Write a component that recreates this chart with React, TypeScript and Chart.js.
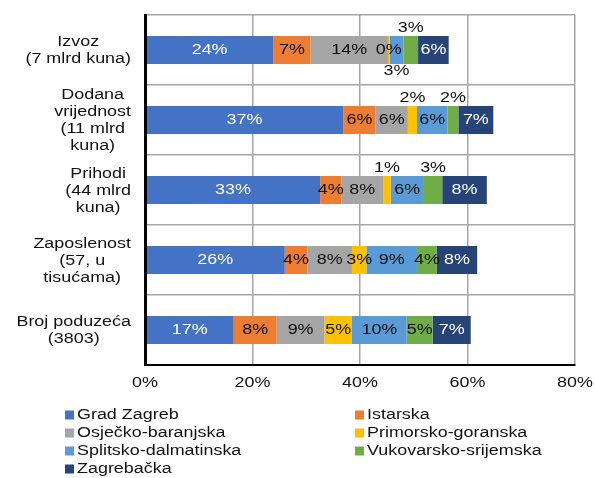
import React, { useEffect, useRef } from "react";
import { Chart, registerables } from "chart.js";

Chart.register(...registerables);

const categories: string[][] = [
  ["Izvoz", "(7 mlrd kuna)"],
  ["Dodana", "vrijednost", "(11 mlrd", "kuna)"],
  ["Prihodi", "(44 mlrd", "kuna)"],
  ["Zaposlenost", "(57, u", "tisućama)"],
  ["Broj poduzeća", "(3803)"],
];

const seriesNames = [
  "Grad Zagreb",
  "Istarska",
  "Osječko-baranjska",
  "Primorsko-goranska",
  "Splitsko-dalmatinska",
  "Vukovarsko-srijemska",
  "Zagrebačka",
];

const gradZagreb = [23.9, 36.9, 32.6, 26.0, 16.5];
const istarska = [6.9, 6.0, 3.9, 4.2, 8.0];
const osjecko = [14.4, 6.0, 7.8, 8.3, 8.9];
const primorsko = [0.3, 1.7, 1.4, 2.7, 5.1];
const splitsko = [2.6, 5.7, 6.2, 9.4, 10.2];
const vukovarsko = [2.7, 2.0, 3.4, 3.7, 4.8];
const zagrebacka = [5.7, 6.5, 8.3, 7.5, 7.1];

const xTickValues = [0, 20, 40, 60, 80];

const seriesColors = ["#4472C4", "#ED7D31", "#A5A5A5", "#FFC000", "#5B9BD5", "#70AD47", "#264478"];

// label placement per dataset (index) per category: in / above / below
const labelPlacement: Record<number, string[]> = {
  3: ["in", "above", "above", "in", "in"],
  4: ["below", "in", "in", "in", "in"],
  5: ["above", "above", "above", "in", "in"],
};

const SX = 1.28;
const FONT = '14px "Liberation Sans", Arial, sans-serif';

const textPlugin = {
  id: "customText",
  afterDraw(chart: any) {
    const ctx: CanvasRenderingContext2D = chart.ctx;
    const xs = chart.scales.x;
    const ys = chart.scales.y;
    ctx.save();
    ctx.font = FONT;
    const draw = (t: string, x: number, y: number, align: CanvasTextAlign, color: string) => {
      ctx.save();
      ctx.translate(x, y);
      ctx.scale(SX, 1);
      ctx.textAlign = align;
      ctx.textBaseline = "middle";
      ctx.fillStyle = color;
      ctx.fillText(t, 0, 0);
      ctx.restore();
    };
    const measure = (t: string) => ctx.measureText(t).width * SX;

    // data labels
    chart.data.datasets.forEach((ds: any, di: number) => {
      const meta = chart.getDatasetMeta(di);
      meta.data.forEach((el: any, i: number) => {
        const v = ds.data[i] as number;
        const txt = Math.round(v) + "%";
        const cx = (el.x + el.base) / 2;
        const pos = (labelPlacement[di] && labelPlacement[di][i]) || "in";
        let cy = el.y;
        let color = di === 0 || di === 6 ? "#ffffff" : "#111111";
        if (pos === "above") {
          cy = el.y - el.height / 2 - 8;
          color = "#111111";
        } else if (pos === "below") {
          cy = el.y + el.height / 2 + 7.5;
          color = "#111111";
        }
        draw(txt, cx, cy, "center", color);
      });
    });

    // category labels
    const lh = 17;
    chart.data.labels.forEach((lab: string[], i: number) => {
      const lines = Array.isArray(lab) ? lab : [lab];
      const cy = ys.getPixelForValue(i) + 1;
      const maxW = Math.max(...lines.map(measure));
      const right = 131;
      const cx = right - maxW / 2;
      const startY = cy - (lines.length * lh) / 2 + lh / 2;
      lines.forEach((ln, k) => draw(ln, cx, startY + k * lh, "center", "#111111"));
    });

    // x tick labels
    xTickValues.forEach((v) => {
      const x = xs.getPixelForValue(v);
      draw(v + "%", x, 383, "center", "#111111");
    });

    // legend
    const colX = [65, 355];
    const rowY = [415, 433, 451, 469];
    chart.data.datasets.forEach((ds: any, di: number) => {
      const col = di % 2;
      const row = Math.floor(di / 2);
      const x = colX[col];
      const y = rowY[row];
      ctx.fillStyle = ds.backgroundColor;
      ctx.fillRect(x, y - 4.5, 9, 9);
      draw(ds.label, x + 12, y, "left", "#111111");
    });
    ctx.restore();
  },
};

export default function App() {
  const ref = useRef<HTMLCanvasElement | null>(null);
  useEffect(() => {
    document.body.style.margin = "0";
    if (!ref.current) return;
    const seriesData = [gradZagreb, istarska, osjecko, primorsko, splitsko, vukovarsko, zagrebacka];
    const chart = new Chart(ref.current, {
      type: "bar",
      data: {
        labels: categories as any,
        datasets: seriesData.map((d, i) => ({
          label: seriesNames[i],
          data: d,
          backgroundColor: seriesColors[i],
          borderWidth: 0,
          barPercentage: 0.4,
          categoryPercentage: 1.0,
        })),
      },
      options: {
        indexAxis: "y",
        responsive: false,
        animation: false,
        layout: { padding: { top: 15, right: 20, bottom: 83, left: 0 } },
        plugins: { legend: { display: false }, tooltip: { enabled: false } },
        scales: {
          x: {
            stacked: true,
            min: 0,
            max: 80,
            ticks: { display: false, stepSize: 20 },
            grid: { color: "#a6a6a6", lineWidth: 1.5, drawTicks: false },
            border: { color: "#000000", width: 2, z: 1 },
            afterFit: (s: any) => {
              s.height = 30;
            },
          },
          y: {
            stacked: true,
            ticks: { display: false },
            grid: { color: "#a6a6a6", lineWidth: 1.5, drawTicks: false, offset: true },
            border: { color: "#000000", width: 3, z: 1 },
            afterFit: (s: any) => {
              s.width = 145;
            },
          },
        },
      } as any,
      plugins: [textPlugin],
    });
    return () => chart.destroy();
  }, []);
  return (
    <div style={{ width: 595, height: 478 }}>
      <canvas ref={ref} width={595} height={478} style={{ display: "block" }} />
    </div>
  );
}
